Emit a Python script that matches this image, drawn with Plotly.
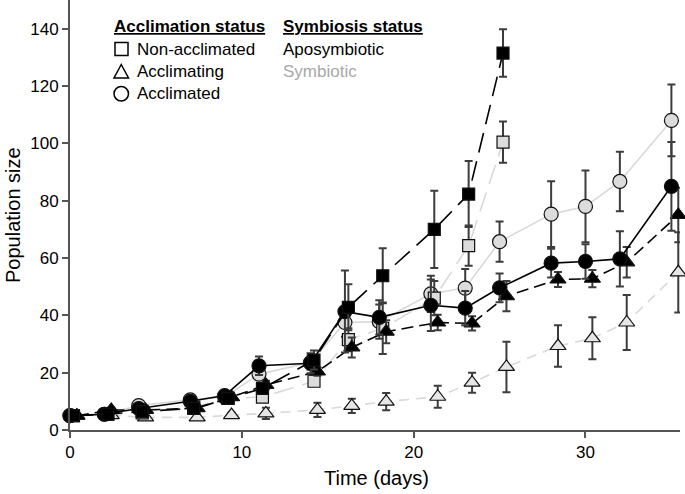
import plotly.graph_objects as go

# ---- data ----
days_c = [0, 2, 4, 7, 9, 11, 14, 16, 18, 21, 23, 25, 28, 30, 32, 35]
days_s = [0.2, 2.2, 4.2, 7.2, 9.2, 11.2, 14.2, 16.2, 18.2, 21.2, 23.2, 25.2]
days_t = [0.4, 2.4, 4.4, 7.4, 9.4, 11.4, 14.4, 16.4, 18.4, 21.4, 23.4, 25.4, 28.4, 30.4, 32.4, 35.4]

apo_nonacc = [5, 5.5, 6.5, 7.5, 11, 14.5, 24.4, 42.8, 53.8, 70, 82.3, 131.5]
apo_nonacc_err = [0.5, 0.6, 0.8, 1, 1.2, 1.5, 3.3, 8, 9.6, 13.5, 11.5, 8.3]
sym_nonacc = [5, 5.5, 6, 8, 11, 11.5, 17, 31.5, 35.5, 46, 64.3, 100.4]
sym_nonacc_err = [0.5, 0.6, 0.7, 1, 1, 1.2, 1.5, 4, 9, 6, 7, 7.2]

apo_accing = [5, 7, 7, 7.6, 11.5, 15.7, 20.4, 28.8, 34.3, 37.5, 37.2, 46.7, 52.5, 52.8, 58.5, 75]
apo_accing_err = [0.5, 0.8, 0.8, 1, 1, 1.5, 1.5, 3.5, 4, 2.7, 2.5, 5.3, 2.6, 3, 5.3, 9.5]
sym_accing = [5, 5.2, 4.4, 4.4, 5.2, 5.8, 7, 8.4, 9.9, 11.6, 16.5, 22, 29.3, 32, 37.5, 55]
sym_accing_err = [0.5, 0.6, 0.6, 0.6, 0.8, 2, 2.5, 2.5, 3, 3.8, 3.5, 8.8, 7.2, 7.3, 9.6, 14]

apo_acc = [5, 5.5, 7.5, 10, 12, 22.4, 23.3, 41.3, 39.3, 43.5, 42.5, 49.6, 58.2, 58.8, 59.7, 85]
apo_acc_err = [0.5, 0.6, 0.8, 1, 1, 3.2, 3.5, 14.3, 6, 9, 6, 5, 5, 6, 9.6, 15.5]
sym_acc = [5, 5.5, 8.5, 10.5, 11.5, 19.5, 23.5, 37.5, 37.8, 47.5, 49.5, 65.7, 75.3, 78, 86.7, 108]
sym_acc_err = [0.5, 0.6, 0.8, 1, 1, 2, 2.5, 5, 6, 6.3, 6.7, 7, 11.5, 12.5, 10.4, 12.5]

y_ticks = [0, 20, 40, 60, 80, 100, 120, 140]
x_ticks = [0, 10, 20, 30]

FONT = "Liberation Sans, Arial, sans-serif"
LIGHT = "#d9d9d9"
FILL_LIGHT = "#dcdcdc"
ERR = "#3c3c3c"

fig = go.Figure()


def add(x, y, err, symbol, fill, line_color, dash, size):
    fig.add_trace(go.Scatter(
        x=x, y=y, mode="lines+markers", cliponaxis=False, showlegend=False,
        line=dict(color=line_color, width=1.6, dash=dash),
        marker=dict(symbol=symbol, size=size, color=fill,
                    line=dict(color="#111111", width=1.2)),
        error_y=dict(type="data", array=err, visible=True, color=ERR,
                     thickness=2, width=4),
    ))


# symbiotic (grey) first, aposymbiotic (black) on top
add(days_t, sym_accing, sym_accing_err, "triangle-up", "#e6e6e6", LIGHT, "10px,7px", 14)
add(days_c, sym_acc, sym_acc_err, "circle", FILL_LIGHT, LIGHT, "solid", 14)
add(days_s, sym_nonacc, sym_nonacc_err, "square", FILL_LIGHT, LIGHT, "20px,9px", 12)
add(days_t, apo_accing, apo_accing_err, "triangle-up", "black", "black", "12px,6px", 14)
add(days_c, apo_acc, apo_acc_err, "circle", "black", "black", "solid", 14)
add(days_s, apo_nonacc, apo_nonacc_err, "square", "black", "black", "20px,9px", 12)

W, H = 685, 494
ML, MR, MT, MB = 70, 5, 0, 64
PW, PH = W - ML - MR, H - MT - MB


def px(xp):
    return (xp - ML) / PW


def py(yp):
    return (MT + PH - yp) / PH


annots = []
shapes = []


def text(x, y, s, color="black", size=17, angle=0, anchor="left"):
    annots.append(dict(x=px(x), y=py(y), xref="paper", yref="paper", text=s,
                       showarrow=False, xanchor=anchor, yanchor="middle",
                       textangle=angle,
                       font=dict(family=FONT, size=size, color=color)))


text(112, 26, "<b><u>Acclimation status</u></b>")
text(135, 49, "Non-acclimated")
text(135, 71.5, "Acclimating")
text(135, 93.5, "Acclimated")
text(281, 26, "<b><u>Symbiosis status</u></b>")
text(281, 49, "Aposymbiotic")
text(281, 71.5, "Symbiotic", color="#a8a8a8")

# axis titles
text(376, 478, "Time (days)", size=20, anchor="center")
text(13, 215, "Population size", size=20, angle=-90, anchor="center")

# legend symbols (layout decoration)
shapes.append(dict(type="rect", xref="paper", yref="paper",
                   x0=px(115), x1=px(128), y0=py(55.5), y1=py(42.5),
                   line=dict(color="black", width=1.5)))
shapes.append(dict(type="path", xref="paper", yref="paper",
                   path="M {} {} L {} {} L {} {} Z".format(px(114), py(78), px(128.5), py(78), px(121.25), py(64.5)),
                   line=dict(color="black", width=1.5)))
shapes.append(dict(type="circle", xref="paper", yref="paper",
                   x0=px(114), x1=px(128.5), y0=py(101), y1=py(86.5),
                   line=dict(color="black", width=1.5)))

fig.update_layout(
    width=W, height=H,
    margin=dict(l=ML, r=MR, t=MT, b=MB, autoexpand=False),
    paper_bgcolor="white", plot_bgcolor="white",
    font=dict(family=FONT, size=17, color="black"),
    annotations=annots, shapes=shapes,
    xaxis=dict(range=[0, 35.5], tickvals=x_ticks, ticks="outside", ticklen=6,
               tickwidth=1.5, tickcolor="#555", showline=True, linecolor="#555",
               linewidth=2, showgrid=False, zeroline=False, automargin=False,
               tickfont=dict(size=17)),
    yaxis=dict(range=[0, 150], tickvals=y_ticks, ticks="outside", ticklen=6,
               tickwidth=1.5, tickcolor="#555", showline=True, linecolor="#555",
               linewidth=2, showgrid=False, zeroline=False, automargin=False,
               tickfont=dict(size=17)),
)

fig.write_html("out.html", config={"displayModeBar": False},
               post_script="document.body.style.margin='0px';document.body.style.overflow='hidden';")
